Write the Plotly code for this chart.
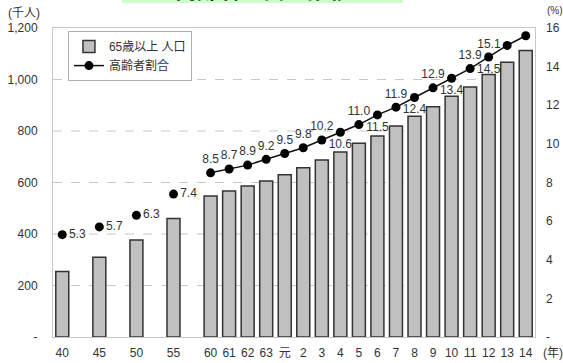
import plotly.graph_objects as go

# Survey years (Showa 40-63, Heisei 元-14)
years = ["40", "45", "50", "55", "60", "61", "62", "63", "元",
         "2", "3", "4", "5", "6", "7", "8", "9", "10", "11", "12", "13", "14"]
# Population aged 65 and over (thousand people)
pop_65 = [254, 310, 377, 460, 548, 567, 586, 606, 630, 657, 687,
          718, 752, 781, 819, 857, 894, 935, 971, 1019, 1067, 1113]
# Share of elderly in total population (%)
ratio = [5.3, 5.7, 6.3, 7.4, 8.5, 8.7, 8.9, 9.2, 9.5, 9.8, 10.2,
         10.6, 11.0, 11.5, 11.9, 12.4, 12.9, 13.4, 13.9, 14.5, 15.1, 15.6]
# Values printed under the line instead of above it
below_labels = {10.6, 11.5, 12.4, 13.4, 14.5}

left_ticks = [0, 200, 400, 600, 800, 1000, 1200]
right_ticks = [0, 2, 4, 6, 8, 10, 12, 14, 16]

FONT = "Arial, 'Liberation Sans', 'Noto Sans CJK JP', sans-serif"
TXT = "#333333"

# Five-year census points take two slots each, annual points one slot
annual_start = years.index("60")
pos = [2 * i if i <= annual_start else i + annual_start for i in range(len(years))]

text_pos = []
for i, v in enumerate(ratio):
    if i < annual_start:
        text_pos.append("middle right")
    elif v in below_labels:
        text_pos.append("bottom center")
    elif i == len(ratio) - 2:
        text_pos.append("middle left")
    else:
        text_pos.append("top center")

fig = go.Figure()

fig.add_trace(go.Bar(
    x=pos, y=pop_65, name="65歳以上 人口",
    marker=dict(color="#c0c0c0", line=dict(color="#333333", width=1.5)),
    width=0.7, yaxis="y",
))

# Five-year points: markers only
fig.add_trace(go.Scatter(
    x=pos[:annual_start], y=ratio[:annual_start], yaxis="y2",
    mode="markers+text", showlegend=False,
    marker=dict(color="black", size=9),
    text=[f"{v:.1f}" for v in ratio[:annual_start]],
    textposition=text_pos[:annual_start],
    textfont=dict(family=FONT, size=12, color=TXT),
))

# Annual points: connected line
fig.add_trace(go.Scatter(
    x=pos[annual_start:], y=ratio[annual_start:], yaxis="y2",
    mode="lines+markers+text", name="高齢者割合",
    line=dict(color="#111111", width=1.5),
    marker=dict(color="black", size=9),
    text=[f"{v:.1f}" for v in ratio[annual_start:]],
    textposition=text_pos[annual_start:],
    textfont=dict(family=FONT, size=12, color=TXT),
))

grid_shapes = [
    dict(type="line", xref="paper", x0=0, x1=1, yref="y", y0=v, y1=v,
         line=dict(color="#c8c8c8", width=1, dash="dash"), layer="below")
    for v in left_ticks[1:-1]
]

fig.update_layout(
    width=563, height=363,
    margin=dict(l=53, r=28, t=28, b=26),
    paper_bgcolor="white", plot_bgcolor="white",
    font=dict(family=FONT, size=12, color=TXT),
    bargap=0.3,
    showlegend=True,
    legend=dict(
        x=0.031, y=0.99, xanchor="left", yanchor="top",
        bgcolor="white", bordercolor="#b0b0b0", borderwidth=1,
        font=dict(size=12, color=TXT), itemwidth=30,
        tracegroupgap=0, traceorder="normal",
    ),
    xaxis=dict(
        range=[-0.5, pos[-1] + 0.5],
        tickvals=pos, ticktext=years, automargin=False,
        showgrid=False, zeroline=False,
        showline=True, linecolor="#c8c8c8", mirror=True,
        ticks="", ticklabelstandoff=5,
        tickfont=dict(size=12, color=TXT),
    ),
    yaxis=dict(
        range=[0, 1200], tickvals=left_ticks, automargin=False,
        ticktext=["-" if v == 0 else f"{v:,}" for v in left_ticks],
        showgrid=False, zeroline=False,
        showline=True, linecolor="#c8c8c8", mirror=True,
        ticks="", ticklabelstandoff=12,
        tickfont=dict(size=12, color=TXT),
    ),
    yaxis2=dict(
        range=[0, 16], tickvals=right_ticks, automargin=False,
        ticktext=["-" if v == 0 else str(v) for v in right_ticks],
        overlaying="y", side="right",
        showgrid=False, zeroline=False, showline=False,
        ticks="", ticklabelstandoff=10,
        tickfont=dict(size=12, color=TXT),
    ),
    shapes=grid_shapes + [
        dict(type="rect", xref="paper", yref="paper",
             x0=0.143, x1=0.726, y0=1.0809, y1=1.095,
             fillcolor="#ccffcc", line=dict(width=0), layer="below"),
    ],
    annotations=[
        dict(text="<b>高齢者人口の推移</b>", xref="paper", yref="paper",
             x=0.435, y=1.075, xanchor="center", yanchor="bottom",
             showarrow=False, font=dict(size=22, color="#222222")),
        dict(text="(千人)", xref="paper", yref="paper",
             x=-0.06, y=1.05, xanchor="center", yanchor="middle",
             showarrow=False, font=dict(size=12, color=TXT)),
        dict(text="(%)", xref="paper", yref="paper",
             x=1.041, y=1.058, xanchor="center", yanchor="middle",
             showarrow=False, font=dict(size=10, color=TXT)),
        dict(text="(年)", xref="paper", yref="paper",
             x=1.037, y=-0.052, xanchor="center", yanchor="middle",
             showarrow=False, font=dict(size=12, color=TXT)),
    ],
)

fig.write_html("out.html")
